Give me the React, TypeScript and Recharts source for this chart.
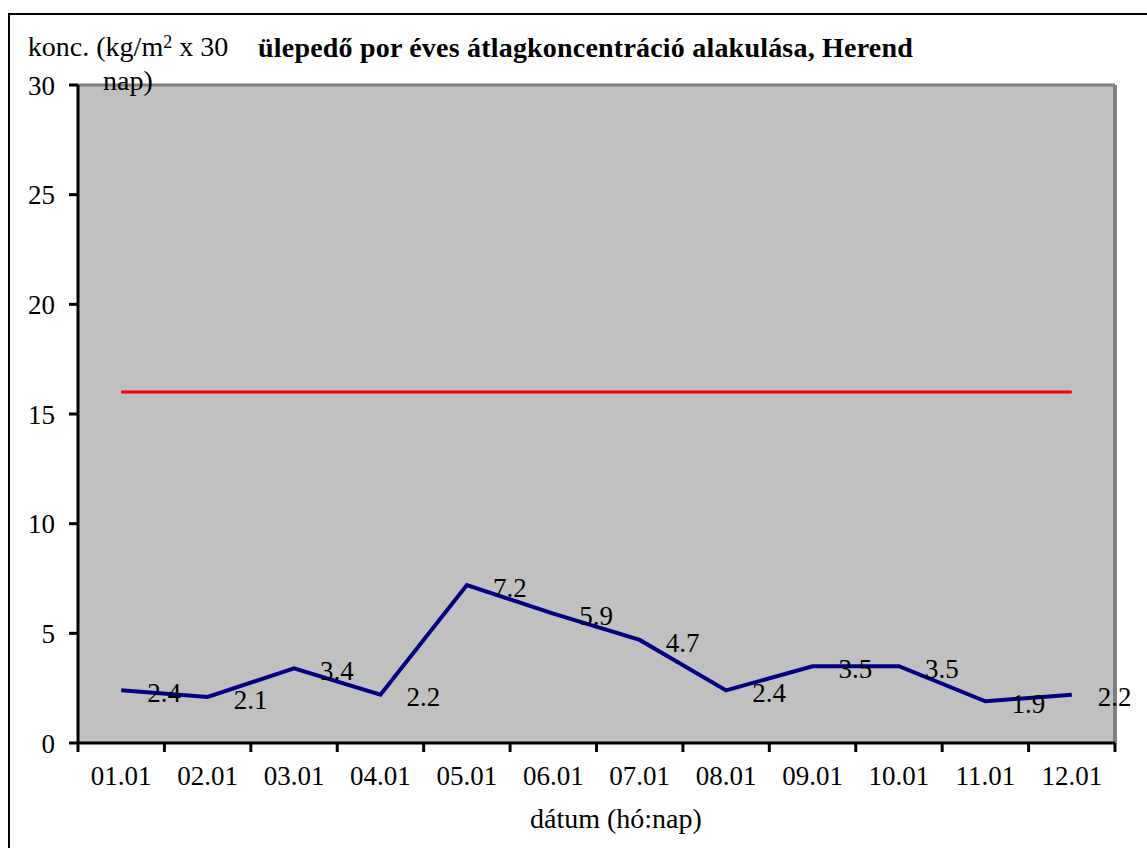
import React from "react";
import {
  LineChart,
  Line,
  XAxis,
  YAxis,
  CartesianGrid,
  ReferenceLine,
  LabelList,
} from "recharts";

// hónapok (hó:nap)
const honapok = [
  "01.01", "02.01", "03.01", "04.01", "05.01", "06.01",
  "07.01", "08.01", "09.01", "10.01", "11.01", "12.01",
];
// ülepedő por, kg/m2 x 30 nap
const koncentracio = [2.4, 2.1, 3.4, 2.2, 7.2, 5.9, 4.7, 2.4, 3.5, 3.5, 1.9, 2.2];
// határérték
const hatarertek = 16;
const yTicks = [0, 5, 10, 15, 20, 25, 30];

// kategóriák közepére tesszük a pontokat (mint Excelben)
const data = honapok.map((h, i) => ({
  pos: i + 0.5,
  honap: h,
  konc: koncentracio[i],
  hatar: hatarertek,
}));
const hatarTicks = honapok.map((_, i) => i).concat(honapok.length);
const kozepTicks = data.map((d) => d.pos);

const FONT = "'Liberation Serif', 'Times New Roman', serif";

const ValueLabel = (props: any) => {
  const { x, y, value } = props;
  return (
    <text x={x + 26} y={y + 2} dy="0.36em" fill="#000" fontSize={27} fontFamily={FONT}>
      {value}
    </text>
  );
};

const App = () => {
  return (
    <div
      style={{
        position: "fixed",
        left: 0,
        top: 0,
        width: 1147,
        height: 848,
        overflow: "hidden",
        background: "#fff",
        fontFamily: FONT,
        color: "#000",
      }}
    >
      {/* keret */}
      <div
        style={{
          position: "absolute",
          left: 8,
          top: 13,
          width: 1300,
          height: 1000,
          borderTop: "2px solid #000",
          borderLeft: "2px solid #000",
        }}
      />
      <div style={{ position: "absolute", left: 8, top: 8 }}>
        <LineChart
          width={1139}
          height={840}
          data={data}
          margin={{ top: 77, right: 32, left: 0, bottom: 0 }}
        >
          <CartesianGrid horizontal={false} vertical={false} fill="#C0C0C0" xAxisId="a" />
          <ReferenceLine y={30} xAxisId="a" stroke="#808080" strokeWidth={3} />
          <ReferenceLine x={12} xAxisId="a" stroke="#808080" strokeWidth={4} />
          <XAxis
            xAxisId="a"
            type="number"
            dataKey="pos"
            domain={[0, 12]}
            ticks={hatarTicks}
            tickFormatter={() => ""}
            tickSize={9}
            height={12}
            axisLine={{ stroke: "#000", strokeWidth: 3 }}
            tickLine={{ stroke: "#000", strokeWidth: 3 }}
          />
          <XAxis
            xAxisId="lab"
            type="number"
            dataKey="pos"
            domain={[0, 12]}
            ticks={kozepTicks}
            tickFormatter={(v: number) => honapok[Math.floor(v)]}
            axisLine={false}
            tickLine={false}
            tickSize={0}
            tickMargin={11}
            height={93}
            tick={{ fill: "#000", fontSize: 27, fontFamily: FONT }}
          />
          <YAxis
            domain={[0, 30]}
            ticks={yTicks}
            width={70}
            tickSize={9}
            tickMargin={14}
            axisLine={{ stroke: "#000", strokeWidth: 3 }}
            tickLine={{ stroke: "#000", strokeWidth: 3 }}
            tick={{ fill: "#000", fontSize: 27, fontFamily: FONT }}
          />
          <Line
            xAxisId="lab"
            type="linear"
            dataKey="hatar"
            stroke="#FF0000"
            strokeWidth={3}
            dot={false}
            isAnimationActive={false}
          />
          <Line
            xAxisId="a"
            type="linear"
            dataKey="konc"
            stroke="#000080"
            strokeWidth={4}
            dot={false}
            isAnimationActive={false}
          >
            <LabelList dataKey="konc" content={<ValueLabel />} />
          </Line>
        </LineChart>
      </div>
      {/* cím */}
      <div
        style={{
          position: "absolute",
          left: 258,
          top: 34,
          fontSize: 28,
          lineHeight: "28px",
          fontWeight: "bold",
          letterSpacing: "0.2px",
          whiteSpace: "nowrap",
        }}
      >
        ülepedő por éves átlagkoncentráció alakulása, Herend
      </div>
      {/* y tengely címe */}
      <div
        style={{
          position: "absolute",
          left: 18,
          top: 30,
          width: 220,
          textAlign: "center",
          fontSize: 28,
          lineHeight: "34px",
        }}
      >
        konc. (kg/m<sup style={{ fontSize: 18, verticalAlign: "8px", lineHeight: 0 }}>2</sup> x 30
        <br />
        nap)
      </div>
      {/* x tengely címe */}
      <div
        style={{
          position: "absolute",
          left: 530,
          top: 805,
          fontSize: 28,
          lineHeight: "28px",
          whiteSpace: "nowrap",
        }}
      >
        dátum (hó:nap)
      </div>
    </div>
  );
};

export default App;
